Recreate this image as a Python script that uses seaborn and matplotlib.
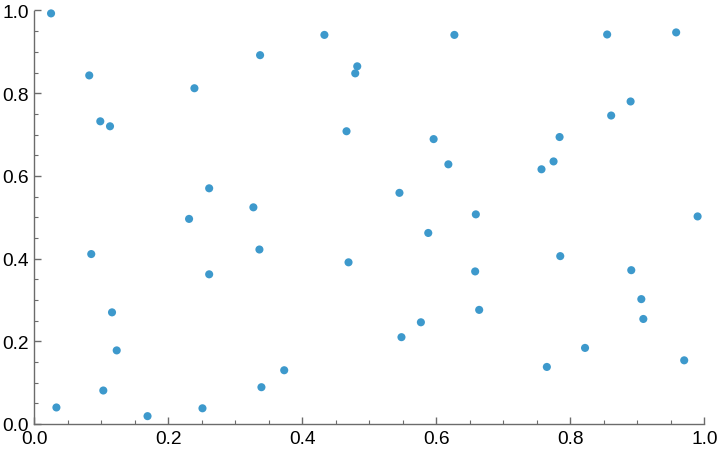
import matplotlib
matplotlib.use("Agg")
import matplotlib.pyplot as plt
import seaborn as sns
import pandas as pd
from matplotlib.ticker import MultipleLocator

x_vals = [0.025, 0.082, 0.0985, 0.113, 0.239, 0.261, 0.231,
          0.433, 0.337, 0.482, 0.479, 0.627, 0.466, 0.596, 0.618, 0.545, 0.327,
          0.855, 0.958, 0.890, 0.861, 0.784, 0.775, 0.757, 0.659, 0.990,
          0.085, 0.261, 0.116, 0.123, 0.103, 0.033, 0.169, 0.251,
          0.336, 0.469, 0.588, 0.577, 0.548, 0.373, 0.339,
          0.658, 0.785, 0.891, 0.664, 0.906, 0.909, 0.822, 0.765, 0.970]
y_vals = [0.993, 0.843, 0.732, 0.720, 0.812, 0.570, 0.496,
          0.941, 0.892, 0.865, 0.848, 0.941, 0.708, 0.689, 0.628, 0.559, 0.524,
          0.942, 0.947, 0.780, 0.746, 0.694, 0.635, 0.616, 0.507, 0.502,
          0.411, 0.362, 0.270, 0.178, 0.081, 0.040, 0.019, 0.038,
          0.422, 0.391, 0.462, 0.246, 0.210, 0.130, 0.089,
          0.369, 0.406, 0.372, 0.276, 0.302, 0.254, 0.184, 0.138, 0.154]

df = pd.DataFrame({"x": x_vals, "y": y_vals})

sns.set_theme(style="white")
plt.rcParams['font.family'] = ['Liberation Sans', 'DejaVu Sans']

fig = plt.figure(figsize=(7.2, 4.56), dpi=100)
ax = fig.add_axes([34.3 / 720, 31 / 456, 670 / 720, 413.5 / 456])

sns.scatterplot(data=df, x="x", y="y", ax=ax, color="#3D99CC", s=34,
                edgecolor="none", linewidth=0, zorder=3, clip_on=False)

ax.set_xlim(0, 1)
ax.set_ylim(0, 1)
ax.set_xlabel("")
ax.set_ylabel("")
ax.xaxis.set_major_locator(MultipleLocator(0.2))
ax.yaxis.set_major_locator(MultipleLocator(0.2))
ax.xaxis.set_minor_locator(MultipleLocator(0.05))
ax.yaxis.set_minor_locator(MultipleLocator(0.05))
ax.xaxis.set_major_formatter(matplotlib.ticker.FormatStrFormatter("%.1f"))
ax.yaxis.set_major_formatter(matplotlib.ticker.FormatStrFormatter("%.1f"))

for side in ["top", "right"]:
    ax.spines[side].set_visible(False)
for side in ["left", "bottom"]:
    ax.spines[side].set_color("#6b6b6b")
    ax.spines[side].set_linewidth(1.0)

ax.tick_params(which="major", direction="in", length=5, width=1.0,
               color="#6b6b6b", labelsize=13.8, labelcolor="black", pad=4,
               bottom=True, left=True)
ax.tick_params(which="minor", direction="in", length=3, width=0.8,
               color="#6b6b6b", bottom=True, left=True)
ax.grid(False)

fig.savefig("out.png", dpi=100)
